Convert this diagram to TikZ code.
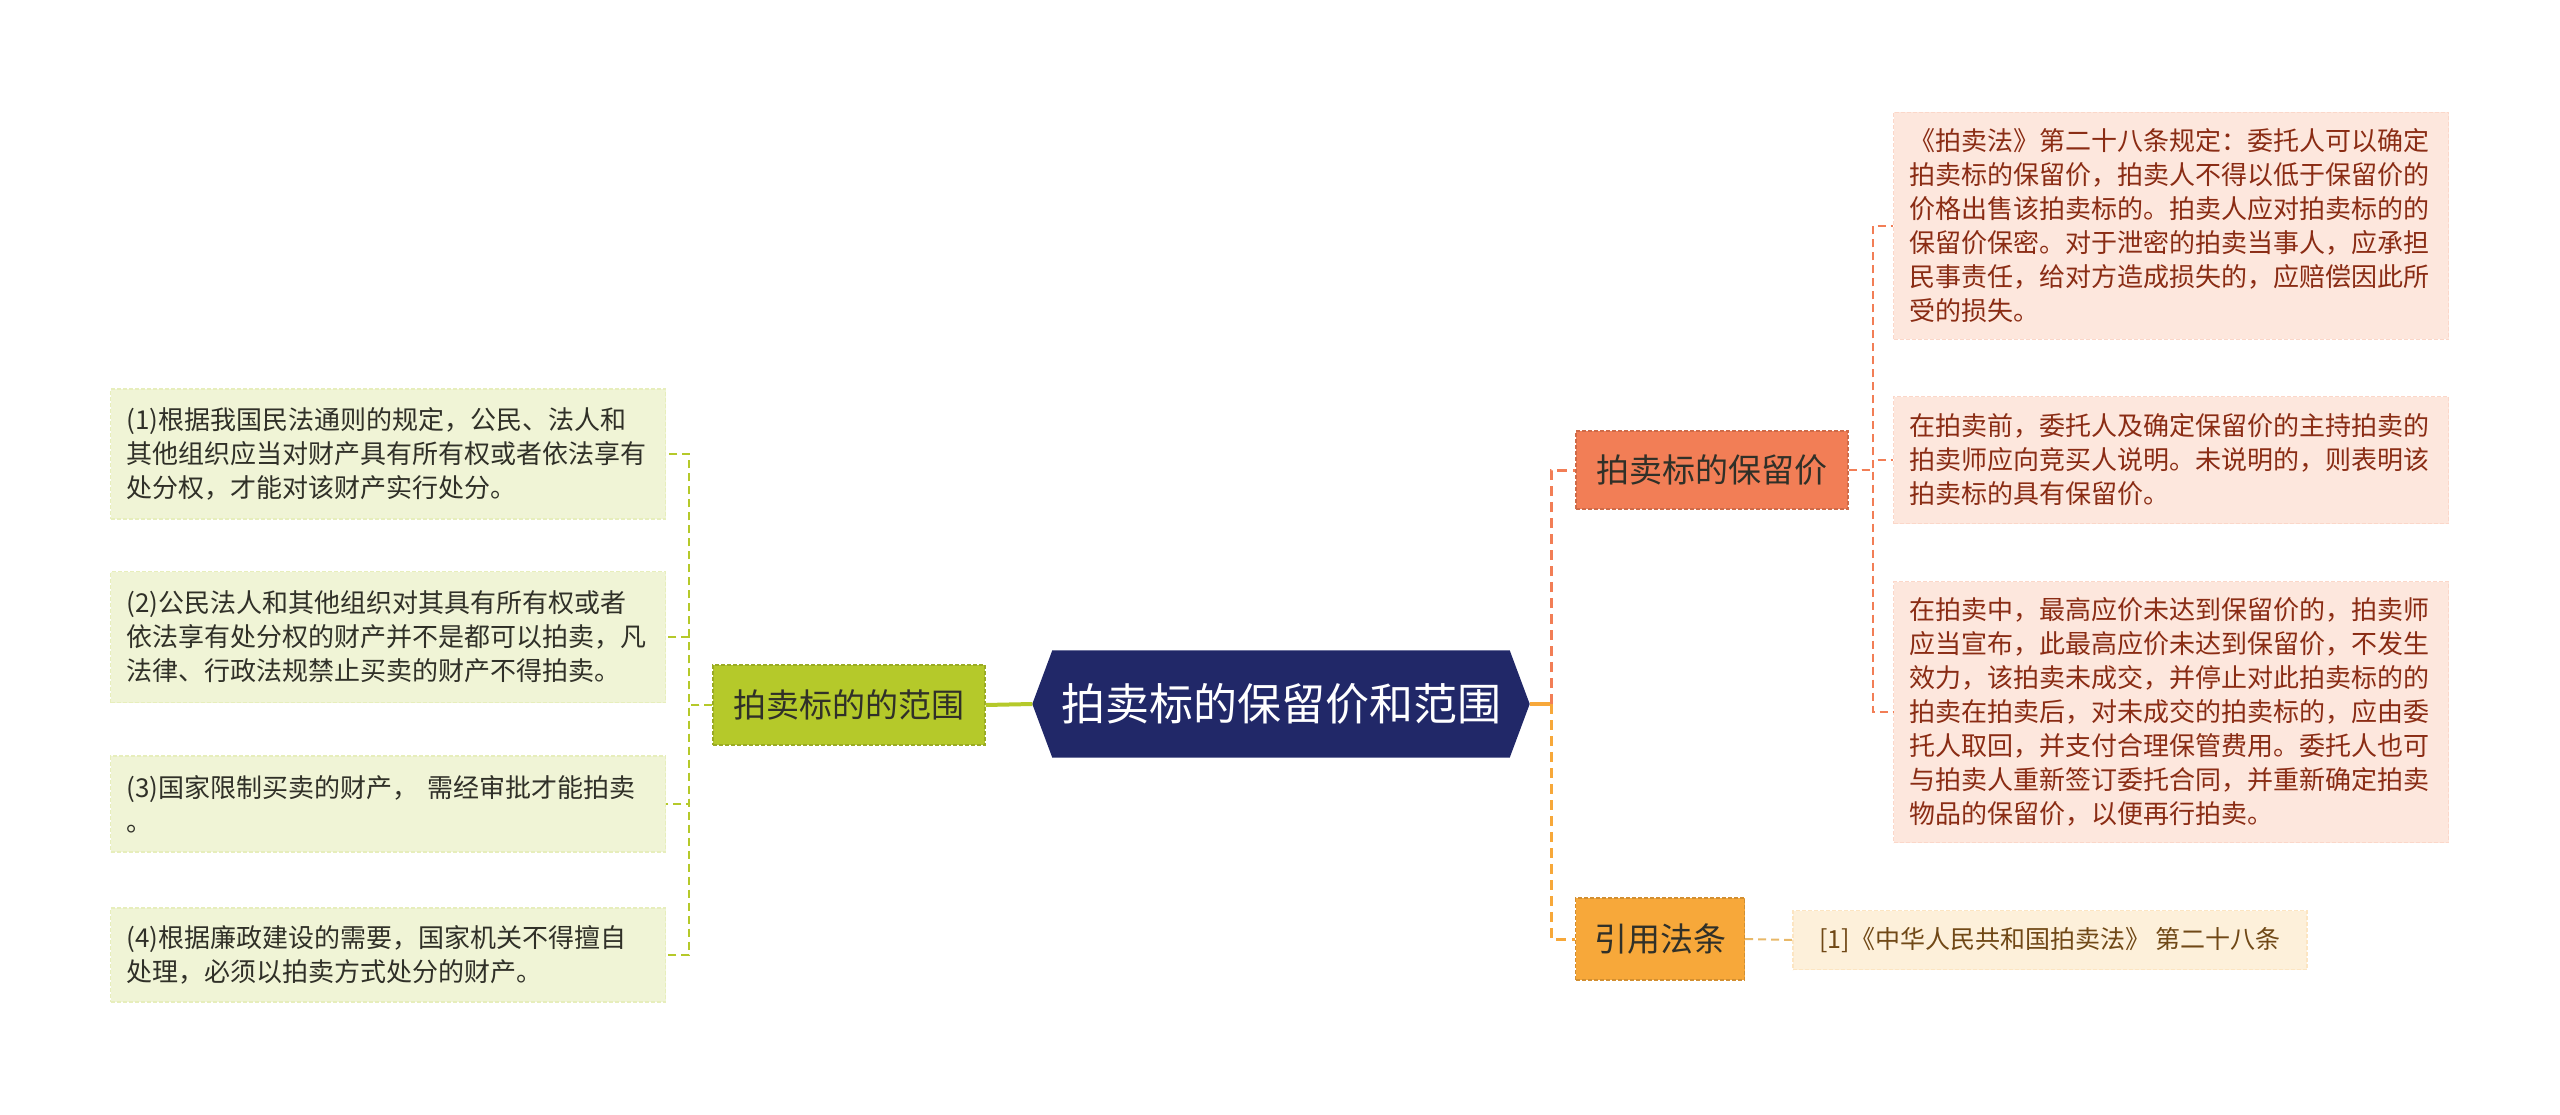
\documentclass[tikz,border=0pt]{standalone}
\usepackage{fontspec}
\setmainfont{Noto Sans CJK SC}
\usepackage{xcolor}

\definecolor{rootblue}{RGB}{33,40,104}
\definecolor{rangegreen}{RGB}{181,201,42}
\definecolor{rangefill}{RGB}{240,244,214}
\definecolor{reservecoral}{RGB}{242,126,86}
\definecolor{reservefill}{RGB}{253,231,221}
\definecolor{reservetext}{RGB}{138,44,20}
\definecolor{citeorange}{RGB}{247,168,58}
\definecolor{citefill}{RGB}{253,240,218}
\definecolor{citetext}{RGB}{112,72,22}
\definecolor{citeline}{RGB}{232,184,104}
\definecolor{leafgray}{RGB}{48,48,40}

\begin{document}
\begin{tikzpicture}[x=1pt, y=-1pt,
    leafbox/.style={font=\fontsize{26}{34}\selectfont, align=left, text width=523pt,
                    inner xsep=16pt, inner ysep=12pt, line width=1.2pt,
                    dash pattern=on 4pt off 2pt},
    rangeleaf/.style={leafbox, fill=rangefill, draw=rangefill!85!rangegreen, text=leafgray},
    reserveleaf/.style={leafbox, fill=reservefill, draw=reservefill!85!reservecoral, text=reservetext},
    topicbox/.style={font=\fontsize{33}{40}\selectfont, text=leafgray, line width=1.2pt,
                     dash pattern=on 4pt off 2pt, minimum height=80pt},
    bigdash/.style={line width=3pt, dash pattern=on 10pt off 6pt},
    smalldash/.style={line width=2pt, dash pattern=on 8pt off 5pt}]

    \useasboundingbox (0,0) rectangle (2560,1115);

    % centre
    \node[minimum width=497pt, minimum height=107pt, inner sep=0pt] (root) at (1281,704) {};
    \fill[rootblue] (root.west) -- ([xshift=20pt]root.north west) -- ([xshift=-20pt]root.north east)
        -- (root.east) -- ([xshift=-20pt]root.south east) -- ([xshift=20pt]root.south west) -- cycle;
    \node[text=white, font=\fontsize{44}{50}\selectfont] at (root.center) {拍卖标的保留价和范围};

    % left branch
    \node[topicbox, fill=rangegreen, draw=rangegreen!85!black, minimum width=272pt] (range) at (849,705) {拍卖标的的范围};

    \node[rangeleaf, minimum height=130pt] (rleaf1) at (388,454)
        {(1)根据我国民法通则的规定，公民、法人和\\其他组织应当对财产具有所有权或者依法享有\\处分权，才能对该财产实行处分。};
    \node[rangeleaf, minimum height=131pt] (rleaf2) at (388,637)
        {(2)公民法人和其他组织对其具有所有权或者\\依法享有处分权的财产并不是都可以拍卖，凡\\法律、行政法规禁止买卖的财产不得拍卖。};
    \node[rangeleaf, minimum height=96pt] (rleaf3) at (388,804)
        {(3)国家限制买卖的财产， 需经审批才能拍卖\\。};
    \node[rangeleaf, minimum height=94pt] (rleaf4) at (388,955)
        {(4)根据廉政建设的需要，国家机关不得擅自\\处理，必须以拍卖方式处分的财产。};

    % right branch
    \node[topicbox, fill=reservecoral, draw=reservecoral!85!black, minimum width=272pt, minimum height=78pt] (reserve) at (1712,470) {拍卖标的保留价};
    \node[topicbox, fill=citeorange, draw=citeorange!85!black, minimum width=169pt, minimum height=82pt] (cite) at (1660,939) {引用法条};

    \node[reserveleaf, minimum height=227pt] (pleaf1) at (2171,226)
        {《拍卖法》第二十八条规定：委托人可以确定\\拍卖标的保留价，拍卖人不得以低于保留价的\\价格出售该拍卖标的。拍卖人应对拍卖标的的\\保留价保密。对于泄密的拍卖当事人，应承担\\民事责任，给对方造成损失的，应赔偿因此所\\受的损失。};
    \node[reserveleaf, minimum height=127pt] (pleaf2) at (2171,460)
        {在拍卖前，委托人及确定保留价的主持拍卖的\\拍卖师应向竞买人说明。未说明的，则表明该\\拍卖标的具有保留价。};
    \node[reserveleaf, minimum height=261pt] (pleaf3) at (2171,712)
        {在拍卖中，最高应价未达到保留价的，拍卖师\\应当宣布，此最高应价未达到保留价，不发生\\效力，该拍卖未成交，并停止对此拍卖标的的\\拍卖在拍卖后，对未成交的拍卖标的，应由委\\托人取回，并支付合理保管费用。委托人也可\\与拍卖人重新签订委托合同，并重新确定拍卖\\物品的保留价，以便再行拍卖。};

    \node[fill=citefill, draw=citefill!85!citeorange, line width=1.2pt, dash pattern=on 4pt off 2pt,
          text=citetext, font=\fontsize{25}{30}\selectfont, minimum width=514pt, minimum height=59pt]
        (citeleaf) at (2050,940) {[1]《中华人民共和国拍卖法》 第二十八条};

    % connectors
    \coordinate (lbus) at (689,705);
    \coordinate (rbus) at (1551,704);
    \coordinate (pbus) at (1873,470);

    \draw[rangegreen, line width=4pt] (root.west) -- (range.east);
    \foreach \leaf in {rleaf1,rleaf2,rleaf3,rleaf4}
        \draw[rangegreen, smalldash] (range.west) -- (lbus) |- (\leaf.east);

    \draw[citeorange, line width=4pt] (root.east) -- (rbus);
    \draw[reservecoral, bigdash] (rbus) |- (reserve.west);
    \draw[citeorange, bigdash] (rbus) |- (cite.west);

    \foreach \leaf in {pleaf1,pleaf2,pleaf3}
        \draw[reservecoral, smalldash] (reserve.east) -- (pbus) |- (\leaf.west);
    \draw[citeline, smalldash] (cite.east) -- (citeleaf.west);
\end{tikzpicture}
\end{document}
